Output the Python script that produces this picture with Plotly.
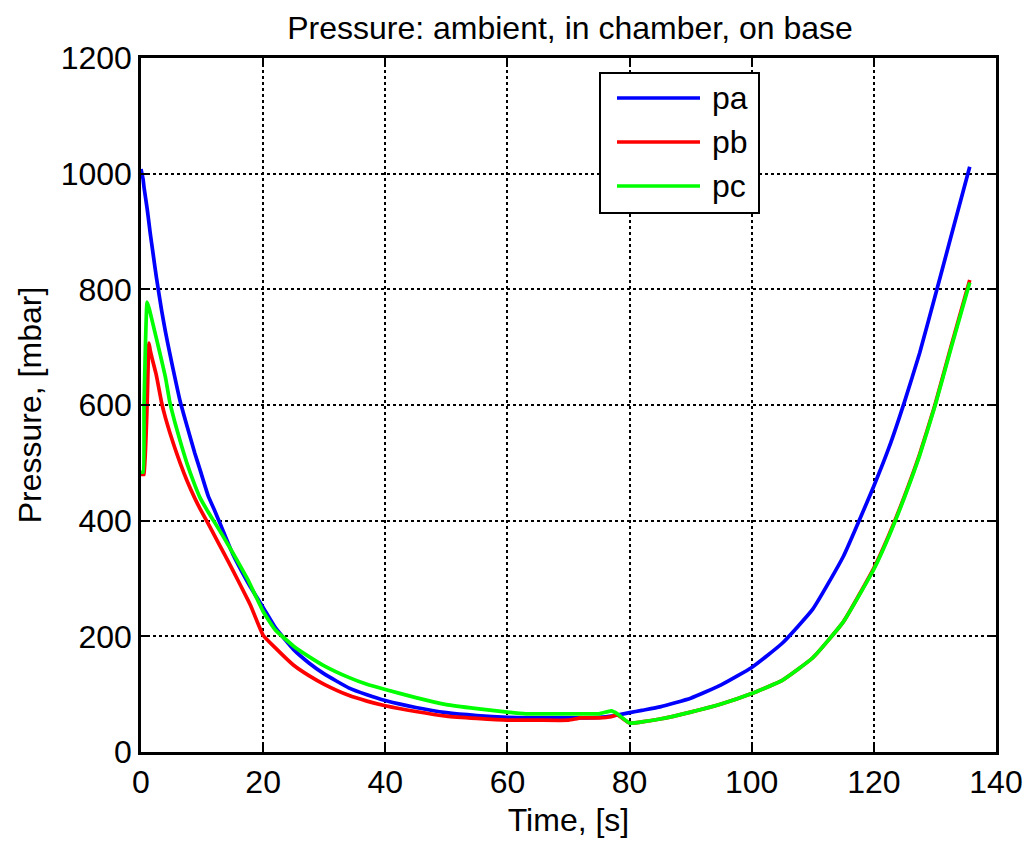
import plotly.graph_objects as go

# Time axis [s]
t = [0, 0.35, 0.5, 1.0, 1.3, 1.5, 2.0, 2.5, 3.4, 4.0, 4.7, 5.5, 6.4, 7.5, 8.8, 9.7, 11, 12, 13.5, 15, 17.5,
     18, 20, 22, 25, 27.5, 30, 34, 37, 40, 45, 50, 55, 60, 63, 65, 70, 72, 75, 77, 78, 80, 82, 85, 90,
     95, 100, 105, 110, 115, 120, 122.5, 125, 127.5, 130, 132.6, 135.7]

# Ambient pressure [mbar]
pa = [1008, 990, 976, 940, 915, 898, 860, 822, 762, 727, 690, 650, 607, 565, 517, 487, 443, 419, 381, 343, 293,
      284, 250, 215, 177, 154, 135, 111, 99, 89, 77, 68, 63, 60, 59, 59, 59, 59, 60, 62, 64, 68, 72, 78, 93,
      116, 146, 188, 247, 338, 460, 527, 605, 690, 787, 890, 1012]

# Chamber pressure [mbar]
pb = [480, 480, 480, 600, 707, 695, 673, 652, 603, 578, 553, 527, 500, 470, 439, 420, 395, 375, 345, 315, 263,
      252, 202, 180, 150, 132, 117, 98, 88, 80, 70, 62, 58, 55, 55, 55, 55, 59, 59, 61, 64, 50, 52, 57, 69,
      83, 101, 124, 163, 225, 318, 376, 442, 515, 600, 700, 816]

# Base pressure [mbar]
pc = [484, 484, 600, 778, 768, 760, 738, 716, 676, 648, 606, 572, 538, 500, 462, 439, 415, 398, 372, 345, 298,
      287, 243, 211, 183, 165, 149, 129, 117, 108, 94, 82, 75, 69, 66, 66, 66, 66, 66, 71, 66, 50, 52, 57, 69,
      83, 101, 124, 163, 225, 316, 374, 440, 513, 598, 697, 812]

series_names = ["pa", "pb", "pc"]
series_colors = ["#0000ff", "#ff0000", "#00ff00"]

x_ticks = [0, 20, 40, 60, 80, 100, 120, 140]
y_ticks = [0, 200, 400, 600, 800, 1000, 1200]

FONT = "Liberation Sans, Arial, sans-serif"
FS = 32

fig = go.Figure()
for name, ys, col in zip(series_names, [pa, pb, pc], series_colors):
    fig.add_trace(go.Scatter(x=t, y=ys, mode="lines", name=name,
                             line=dict(color=col, width=3.7, shape="spline", smoothing=0.4),
                             showlegend=False))

axis_common = dict(
    showline=True, linecolor="black", linewidth=2.5, mirror="ticks",
    ticks="inside", ticklen=8, tickwidth=2, tickcolor="black",
    showgrid=True, gridcolor="black", gridwidth=1.5, griddash="dot",
    zeroline=False, tickfont=dict(family=FONT, size=FS, color="black"),
)

# figure is placed at an 8px page offset
L, T, R, B = 133, 50, 44, 98
W, H = 1032, 842
pw, ph = W - L - R, H - T - B

def px_x(px):  # page pixel -> paper x
    return (px - 8 - L) / pw

def px_y(py):  # page pixel -> paper y
    return (H - B - (py - 8)) / ph

shapes = []
annotations = []
# custom legend box
shapes.append(dict(type="rect", xref="paper", yref="paper",
                   x0=px_x(600), x1=px_x(759), y0=px_y(213), y1=px_y(73),
                   line=dict(color="black", width=2), fillcolor="white", layer="above"))
for i, (name, col) in enumerate(zip(series_names, series_colors)):
    yy = px_y(98 + 44 * i)
    shapes.append(dict(type="line", xref="paper", yref="paper",
                       x0=px_x(617), x1=px_x(700), y0=yy, y1=yy,
                       line=dict(color=col, width=3.5), layer="above"))
    annotations.append(dict(text=name, xref="paper", yref="paper", x=px_x(710), y=yy,
                            xanchor="left", yanchor="middle", showarrow=False,
                            font=dict(family=FONT, size=FS, color="black")))

fig.update_layout(
    width=W, height=H,
    paper_bgcolor="white", plot_bgcolor="white",
    margin=dict(l=L, r=R, t=T, b=B),
    font=dict(family=FONT, size=FS, color="black"),
    title=dict(text="Pressure: ambient, in chamber, on base", x=(570 - 8) / W, xanchor="center",
               xref="container", y=1 - 20 / H, yanchor="middle",
               font=dict(family=FONT, size=FS, color="black")),
    xaxis=dict(range=[0, 140], tickvals=x_ticks, ticktext=[str(v) for v in x_ticks],
               title=dict(text="Time, [s]", font=dict(family=FONT, size=FS), standoff=10),
               **axis_common),
    yaxis=dict(range=[0, 1200], tickvals=y_ticks, ticktext=[str(v) for v in y_ticks],
               title=dict(text="Pressure, [mbar]", font=dict(family=FONT, size=FS), standoff=10),
               ticklabelstandoff=0,
               **axis_common),
    shapes=shapes,
    annotations=annotations,
    showlegend=False,
)

fig.write_html("out.html")
